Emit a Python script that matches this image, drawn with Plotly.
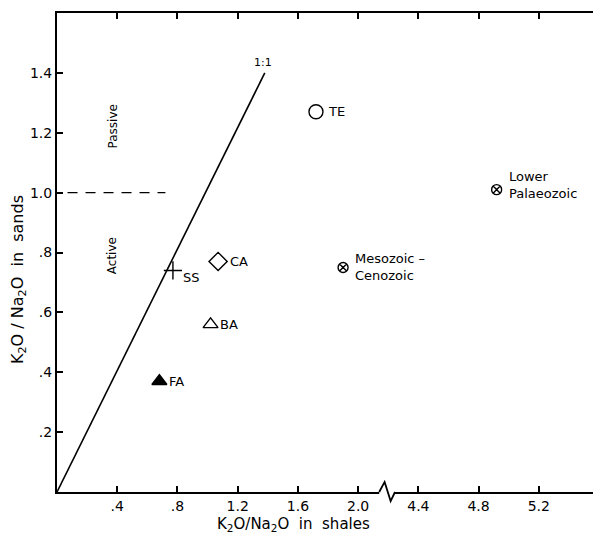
import plotly.graph_objects as go

# ---- data ----
labels = ["TE", "CA", "SS", "BA", "FA", "Mesozoic –<br>Cenozoic", "Lower<br>Palaeozoic"]
shale = [1.72, 1.07, 0.77, 1.02, 0.68, 1.90, 4.92]
sand = [1.27, 0.77, 0.74, 0.56, 0.37, 0.75, 1.01]
symbols = ["circle-open", "diamond-open", "cross-thin-open", "triangle-up-open",
           "triangle-up", "circle-x-open", "circle-x-open"]
sizes = [14, 14, 13, 13, 13, 10, 10]

line11_shale = [0, 1.38]
line11_sand = [0, 1.40]
divide_shale = [0.07, 0.72]
divide_sand = [1.0, 1.0]

xtick_vals = [0.4, 0.8, 1.2, 1.6, 2.0, 4.4, 4.8, 5.2]
xtick_text = [".4", ".8", "1.2", "1.6", "2.0", "4.4", "4.8", "5.2"]
ytick_vals = [0.2, 0.4, 0.6, 0.8, 1.0, 1.2, 1.4]
ytick_text = [".2", ".4", ".6", ".8", "1.0", "1.2", "1.4"]

BREAK_LO, BREAK_HI = 2.0, 4.4
GAP = BREAK_HI - BREAK_LO - 0.4  # broken axis compresses 2.0..4.4 into one interval


def tx(v):
    return v if v <= 2.2 else v - GAP


FONT = "DejaVu Sans"
fig = go.Figure()

fig.add_trace(go.Scatter(x=[tx(v) for v in line11_shale], y=line11_sand, mode="lines",
                         line=dict(color="black", width=1.6), showlegend=False))
fig.add_trace(go.Scatter(x=[tx(v) for v in divide_shale], y=divide_sand, mode="lines",
                         line=dict(color="black", width=1.4, dash="10px,8px"), showlegend=False))

for lab, xs, ys, sym, sz in zip(labels, shale, sand, symbols, sizes):
    fig.add_trace(go.Scatter(x=[tx(xs)], y=[ys], mode="markers",
                             marker=dict(symbol=sym, size=sz, color="black",
                                         line=dict(color="black", width=1.4)),
                             showlegend=False, cliponaxis=False))

shifts = {"TE": (10, 0), "CA": (10, 0), "SS": (8, -7), "BA": (7, 0), "FA": (8, 0),
          "Mesozoic –<br>Cenozoic": (10, 0), "Lower<br>Palaeozoic": (10, 5)}
for lab, xs, ys in zip(labels, shale, sand):
    dx, dy = shifts[lab]
    fig.add_annotation(x=tx(xs), y=ys, text=lab, showarrow=False, xanchor="left",
                       align="left", xshift=dx, yshift=dy,
                       font=dict(family=FONT, size=13, color="black"))

fig.add_annotation(x=tx(line11_shale[1]), y=line11_sand[1], text="1:1", showarrow=False,
                   yshift=10, xshift=-2, font=dict(family=FONT, size=11, color="black"))
fig.add_annotation(x=0.37, y=1.22, text="Passive", textangle=-90, showarrow=False,
                   font=dict(family=FONT, size=12, color="black"))
fig.add_annotation(x=0.37, y=0.79, text="Active", textangle=-90, showarrow=False,
                   font=dict(family=FONT, size=12, color="black"))

# axis titles
fig.add_annotation(xref="paper", yref="paper", x=(293 - 57) / 536, y=-(524 - 492) / 479,
                   text="K<sub>2</sub>O/Na<sub>2</sub>O  in  shales", showarrow=False,
                   yanchor="middle", font=dict(family=FONT, size=15, color="black"))
fig.add_annotation(xref="paper", yref="paper", x=-(57 - 18) / 536, y=(492 - 280) / 479,
                   text="K<sub>2</sub>O / Na<sub>2</sub>O  in  sands", showarrow=False,
                   textangle=-90, xanchor="center",
                   font=dict(family=FONT, size=16, color="black"))

# axis break glyph
fig.add_shape(type="line", xref="x", yref="paper", x0=2.14, x1=2.245, y0=0, y1=0,
              line=dict(color="white", width=4), layer="above")
fig.add_shape(type="path", xref="x", yref="paper",
              path="M 2.14 0 L 2.176 0.021 L 2.216 -0.019 L 2.245 0",
              line=dict(color="black", width=1.8), layer="above")

fig.update_layout(
    width=593, height=536,
    margin=dict(l=57, r=0, t=13, b=44),
    paper_bgcolor="white", plot_bgcolor="white",
    xaxis=dict(range=[0, 3.56], tickvals=[tx(v) for v in xtick_vals], ticktext=xtick_text,
               showgrid=False, zeroline=False, showline=True, linecolor="black", linewidth=2,
               mirror="ticks", ticks="inside", ticklen=6, tickwidth=1.5, tickcolor="black",
               tickfont=dict(family=FONT, size=14, color="black")),
    yaxis=dict(range=[0, 1.6], tickvals=ytick_vals, ticktext=ytick_text,
               showgrid=False, zeroline=False, showline=True, linecolor="black", linewidth=2,
               ticks="inside", ticklen=6, tickwidth=1.5, tickcolor="black",
               tickfont=dict(family=FONT, size=14, color="black")),
)

fig.write_html("out.html")
